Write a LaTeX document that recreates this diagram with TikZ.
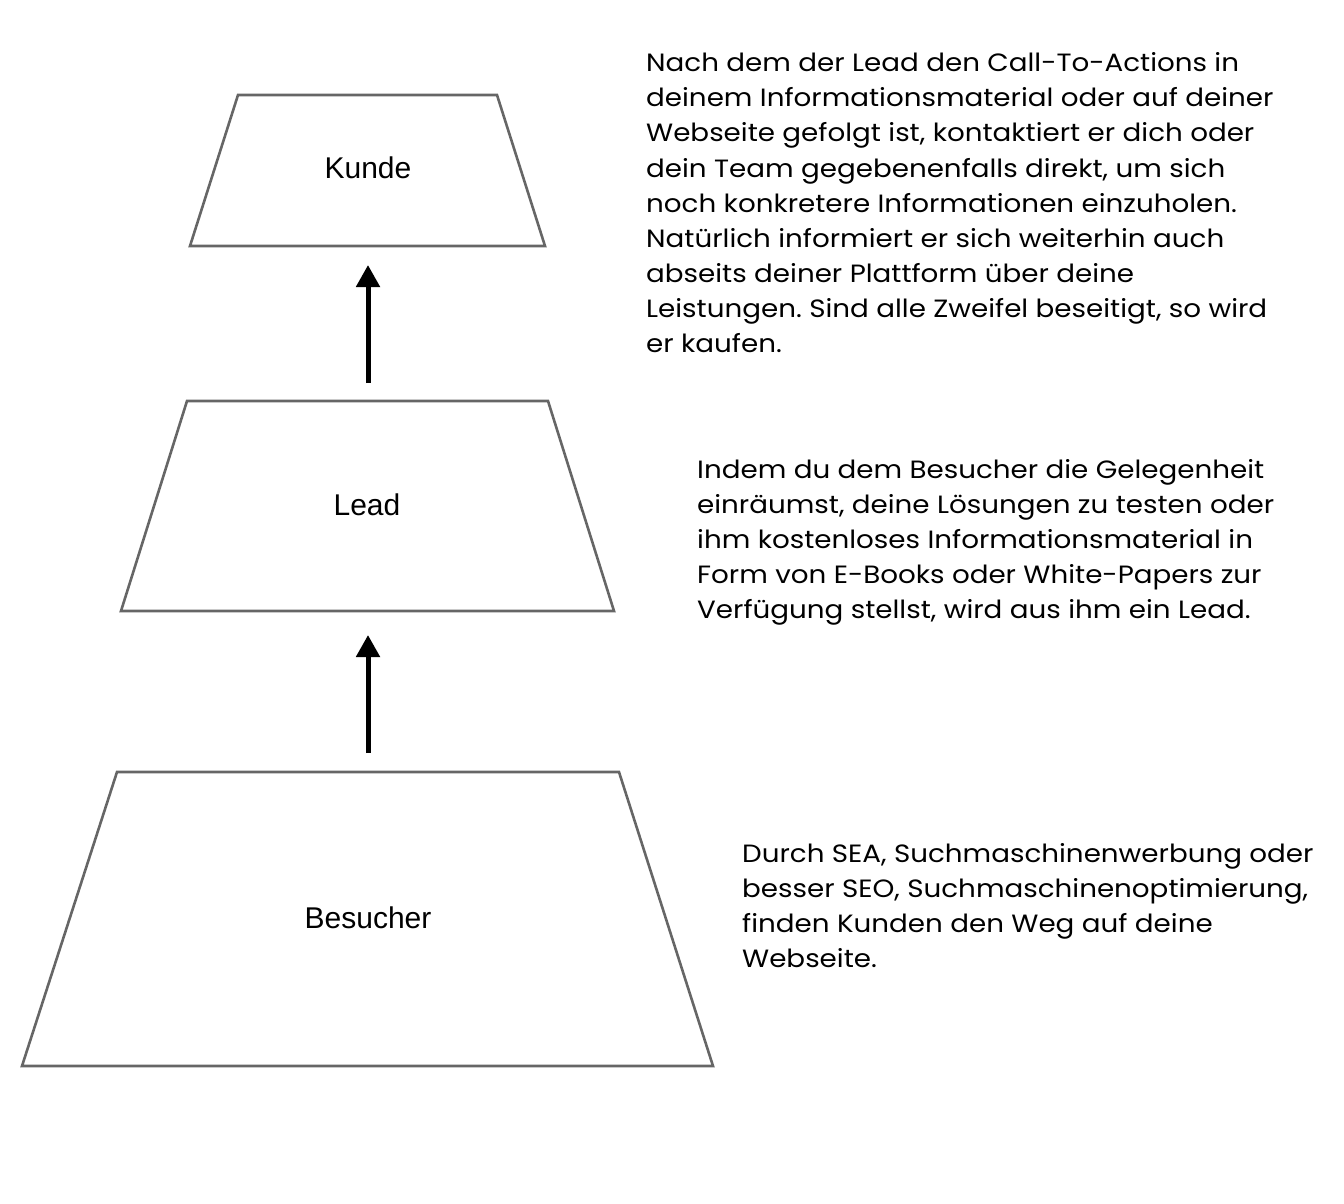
\documentclass[tikz,border=0pt]{standalone}
\usepackage{fontspec}
\setmainfont{Liberation Sans}
\newfontfamily\parafont[FakeStretch=1.11]{Poppins}
\usetikzlibrary{arrows.meta}
\frenchspacing
\tikzset{
  trap/.style={draw=black!60, line width=2.6pt, fill=white, line join=miter},
  lbl/.style={font=\fontsize{30}{34}\selectfont, inner sep=0pt},
  para/.style={font=\parafont\fontsize{25}{35}\selectfont, anchor=base west, inner sep=0pt},
  up/.style={line width=5pt, -{Triangle[length=22pt,width=23pt]}},
}
\begin{document}
\begin{tikzpicture}[x=1pt,y=-1pt]
\useasboundingbox (0,0) rectangle (1344,1204);
% trapezoids
\draw[trap] (238,95) -- (497,95) -- (545,246) -- (190,246) -- cycle;
\draw[trap] (187,401) -- (548,401) -- (614,611) -- (121,611) -- cycle;
\draw[trap] (117,772) -- (619,772) -- (713,1066) -- (22,1066) -- cycle;
\node[lbl] (kunde) at (368,168) {Kunde};
\node[lbl] (lead) at (367,505) {Lead};
\node[lbl] (besucher) at (368,918) {Besucher};
% arrows
\coordinate (a1s) at (368,383);
\coordinate (a1e) at (368,265);
\coordinate (a2s) at (368,753);
\coordinate (a2e) at (368,635);
\draw[up] (a1s) -- (a1e);
\draw[up] (a2s) -- (a2e);
% paragraphs
\foreach \s [count=\i] in {
  {Nach dem der Lead den Call-To-Actions in},
  {deinem Informationsmaterial oder auf deiner},
  {Webseite gefolgt ist, kontaktiert er dich oder},
  {dein Team gegebenenfalls direkt, um sich},
  {noch konkretere Informationen einzuholen.},
  {Natürlich informiert er sich weiterhin auch},
  {abseits deiner Plattform über deine},
  {Leistungen. Sind alle Zweifel beseitigt, so wird},
  {er kaufen.}}
  \node[para] (p1l\i) at (646,{72+35*(\i-1)}) {\s};
\foreach \s [count=\i] in {
  {Indem du dem Besucher die Gelegenheit},
  {einräumst, deine Lösungen zu testen oder},
  {ihm kostenloses Informationsmaterial in},
  {Form von E-Books oder White-Papers zur},
  {Verfügung stellst, wird aus ihm ein Lead.}}
  \node[para] (p2l\i) at (697,{478+35*(\i-1)}) {\s};
\foreach \s [count=\i] in {
  {Durch SEA, Suchmaschinenwerbung oder},
  {besser SEO, Suchmaschinenoptimierung,},
  {finden Kunden den Weg auf deine},
  {Webseite.}}
  \node[para] (p3l\i) at (742,{862+35*(\i-1)}) {\s};
\end{tikzpicture}
\end{document}
